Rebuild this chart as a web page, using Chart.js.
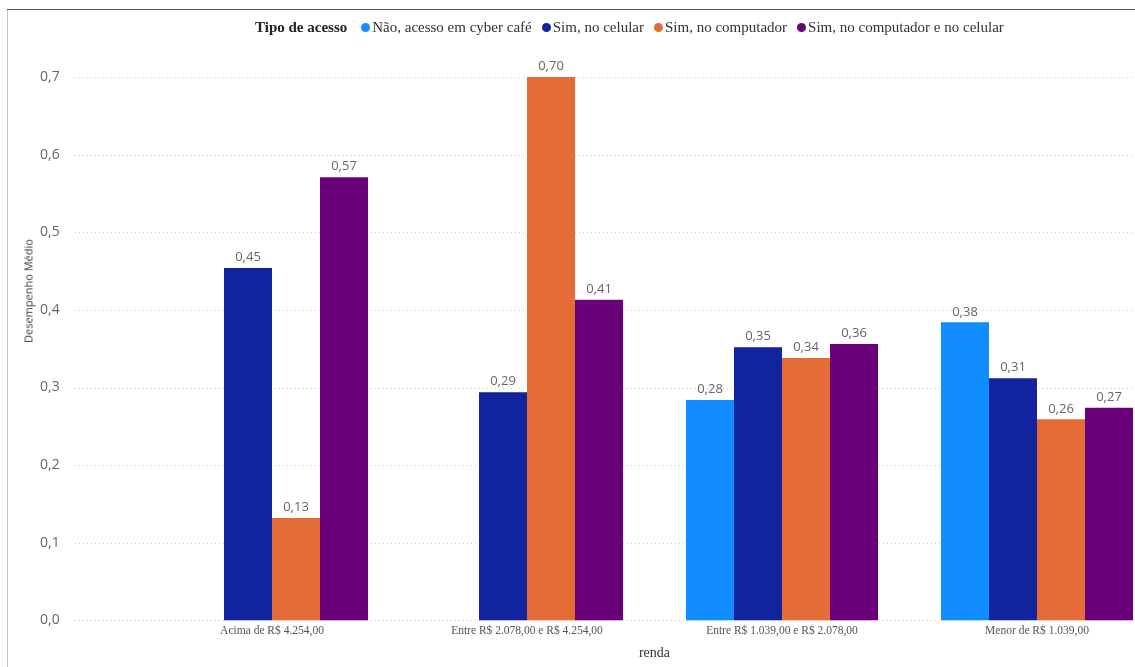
<html>
<head>
<meta charset="UTF-8">
<title>Desempenho Médio por renda e tipo de acesso</title>
<script src="https://cdn.jsdelivr.net/npm/chart.js@4/dist/chart.umd.min.js"></script>
<style>
  html, body { margin: 0; background: #fff; overflow: hidden; width: 1135px; height: 667px; }
  body { position: relative; }
  #frameTop { position: absolute; left: 7px; top: 9px; width: 1128px; height: 0; border-top: 1.5px solid #555; z-index: 2; }
  #frameLeft { position: absolute; left: 7px; top: 10px; width: 0; height: 657px; border-left: 1px solid #c4c4c4; z-index: 2; }
  #legend { position: absolute; left: 255px; top: 17px; height: 20px; display: flex; align-items: center; z-index: 2;
            font-family: "Liberation Serif", serif; font-size: 15px; color: #333; white-space: nowrap; }
  #legend b { color: #222; margin-right: 14px; }
  #legend .item { display: flex; align-items: center; margin-right: 10px; }
  #legend .dot { width: 9px; height: 9px; border-radius: 50%; margin-right: 2px; }
  #ytitle { position: absolute; left: 28px; top: 291px; transform: translate(-50%, -50%) rotate(-90deg); z-index: 2;
            font-family: "Open Sans", sans-serif; font-size: 11px; color: #333; white-space: nowrap; }
  #myChart { position: absolute; left: 0; top: 0; }
</style>
</head>
<body>
<div id="frameTop"></div>
<div id="frameLeft"></div>
<div id="legend"><b>Tipo de acesso</b></div>
<div id="ytitle">Desempenho Médio</div>
<canvas id="myChart" width="1170" height="667"></canvas>
<script>
var faixas = ['Acima de R$ 4.254,00', 'Entre R$ 2.078,00 e R$ 4.254,00', 'Entre R$ 1.039,00 e R$ 2.078,00', 'Menor de R$ 1.039,00'];
var tipos = ['Não, acesso em cyber café', 'Sim, no celular', 'Sim, no computador', 'Sim, no computador e no celular'];
var cores = ['#118DFF', '#12239E', '#E66C37', '#6B007B'];

var cyberCafe = [null, null, 0.284, 0.384];
var celular = [0.454, 0.294, 0.352, 0.312];
var computador = [0.132, 0.700, 0.338, 0.259];
var compCelular = [0.571, 0.413, 0.356, 0.274];

var yTicks = [0, 0.1, 0.2, 0.3, 0.4, 0.5, 0.6, 0.7];

var series = [cyberCafe, celular, computador, compCelular];

// legend
var legend = document.getElementById('legend');
tipos.forEach(function(t, i) {
  var it = document.createElement('span');
  it.className = 'item';
  it.innerHTML = '<span class="dot" style="background:' + cores[i] + '"></span>' + t;
  legend.appendChild(it);
});

function virgula(v, d) { return v.toFixed(d).replace('.', ','); }

var dottedGrid = {
  id: 'dottedGrid',
  beforeDatasetsDraw: function(chart) {
    var ctx = chart.ctx, y = chart.scales.y;
    ctx.save();
    ctx.strokeStyle = '#cfcfcf';
    ctx.lineWidth = 1;
    ctx.setLineDash([1, 3]);
    yTicks.forEach(function(t) {
      var py = Math.round(y.getPixelForValue(t)) + 0.5;
      ctx.beginPath();
      ctx.moveTo(75, py);
      ctx.lineTo(1135, py);
      ctx.stroke();
    });
    ctx.restore();
  }
};

var valueLabels = {
  id: 'valueLabels',
  afterDatasetsDraw: function(chart) {
    var ctx = chart.ctx;
    ctx.save();
    ctx.font = '13px "Open Sans", sans-serif';
    ctx.fillStyle = '#666';
    ctx.textAlign = 'center';
    ctx.textBaseline = 'bottom';
    chart.data.datasets.forEach(function(ds, i) {
      chart.getDatasetMeta(i).data.forEach(function(bar, j) {
        if (ds.data[j] === null) return;
        ctx.fillText(virgula(ds.data[j], 2), bar.x, bar.y - 4);
      });
    });
    ctx.restore();
  }
};

var ctx = document.getElementById('myChart').getContext('2d');
var chart = new Chart(ctx, {
  type: 'bar',
  data: {
    labels: faixas,
    datasets: series.map(function(s, i) {
      return { label: tipos[i], data: s, backgroundColor: cores[i], borderWidth: 0,
               categoryPercentage: 0.753, barPercentage: 1.0 };
    })
  },
  options: {
    responsive: false,
    animation: false,
    layout: { padding: { top: 77, right: 5.5, left: 40, bottom: 0 } },
    plugins: { legend: { display: false }, tooltip: { enabled: false } },
    scales: {
      x: {
        grid: { display: false, drawTicks: false },
        border: { display: false },
        ticks: { color: '#555', font: { family: 'Liberation Serif', size: 11.5 }, padding: 4, maxRotation: 0 },
        title: { display: true, text: 'renda', color: '#333', font: { family: 'Liberation Serif', size: 14 },
                 padding: { top: 3, bottom: 5 } }
      },
      y: {
        min: 0, max: 0.7,
        grid: { display: false, drawTicks: false },
        border: { display: false },
        afterBuildTicks: function(scale) { scale.ticks = yTicks.map(function(v) { return { value: v }; }); },
        afterFit: function(scale) { scale.width = 104.5; },
        ticks: { color: '#666', font: { family: 'Open Sans', size: 14 }, padding: 4, crossAlign: 'far',
                 callback: function(v) { return virgula(v, 1); } }
      }
    }
  },
  plugins: [dottedGrid, valueLabels]
});
</script>
</body>
</html>
